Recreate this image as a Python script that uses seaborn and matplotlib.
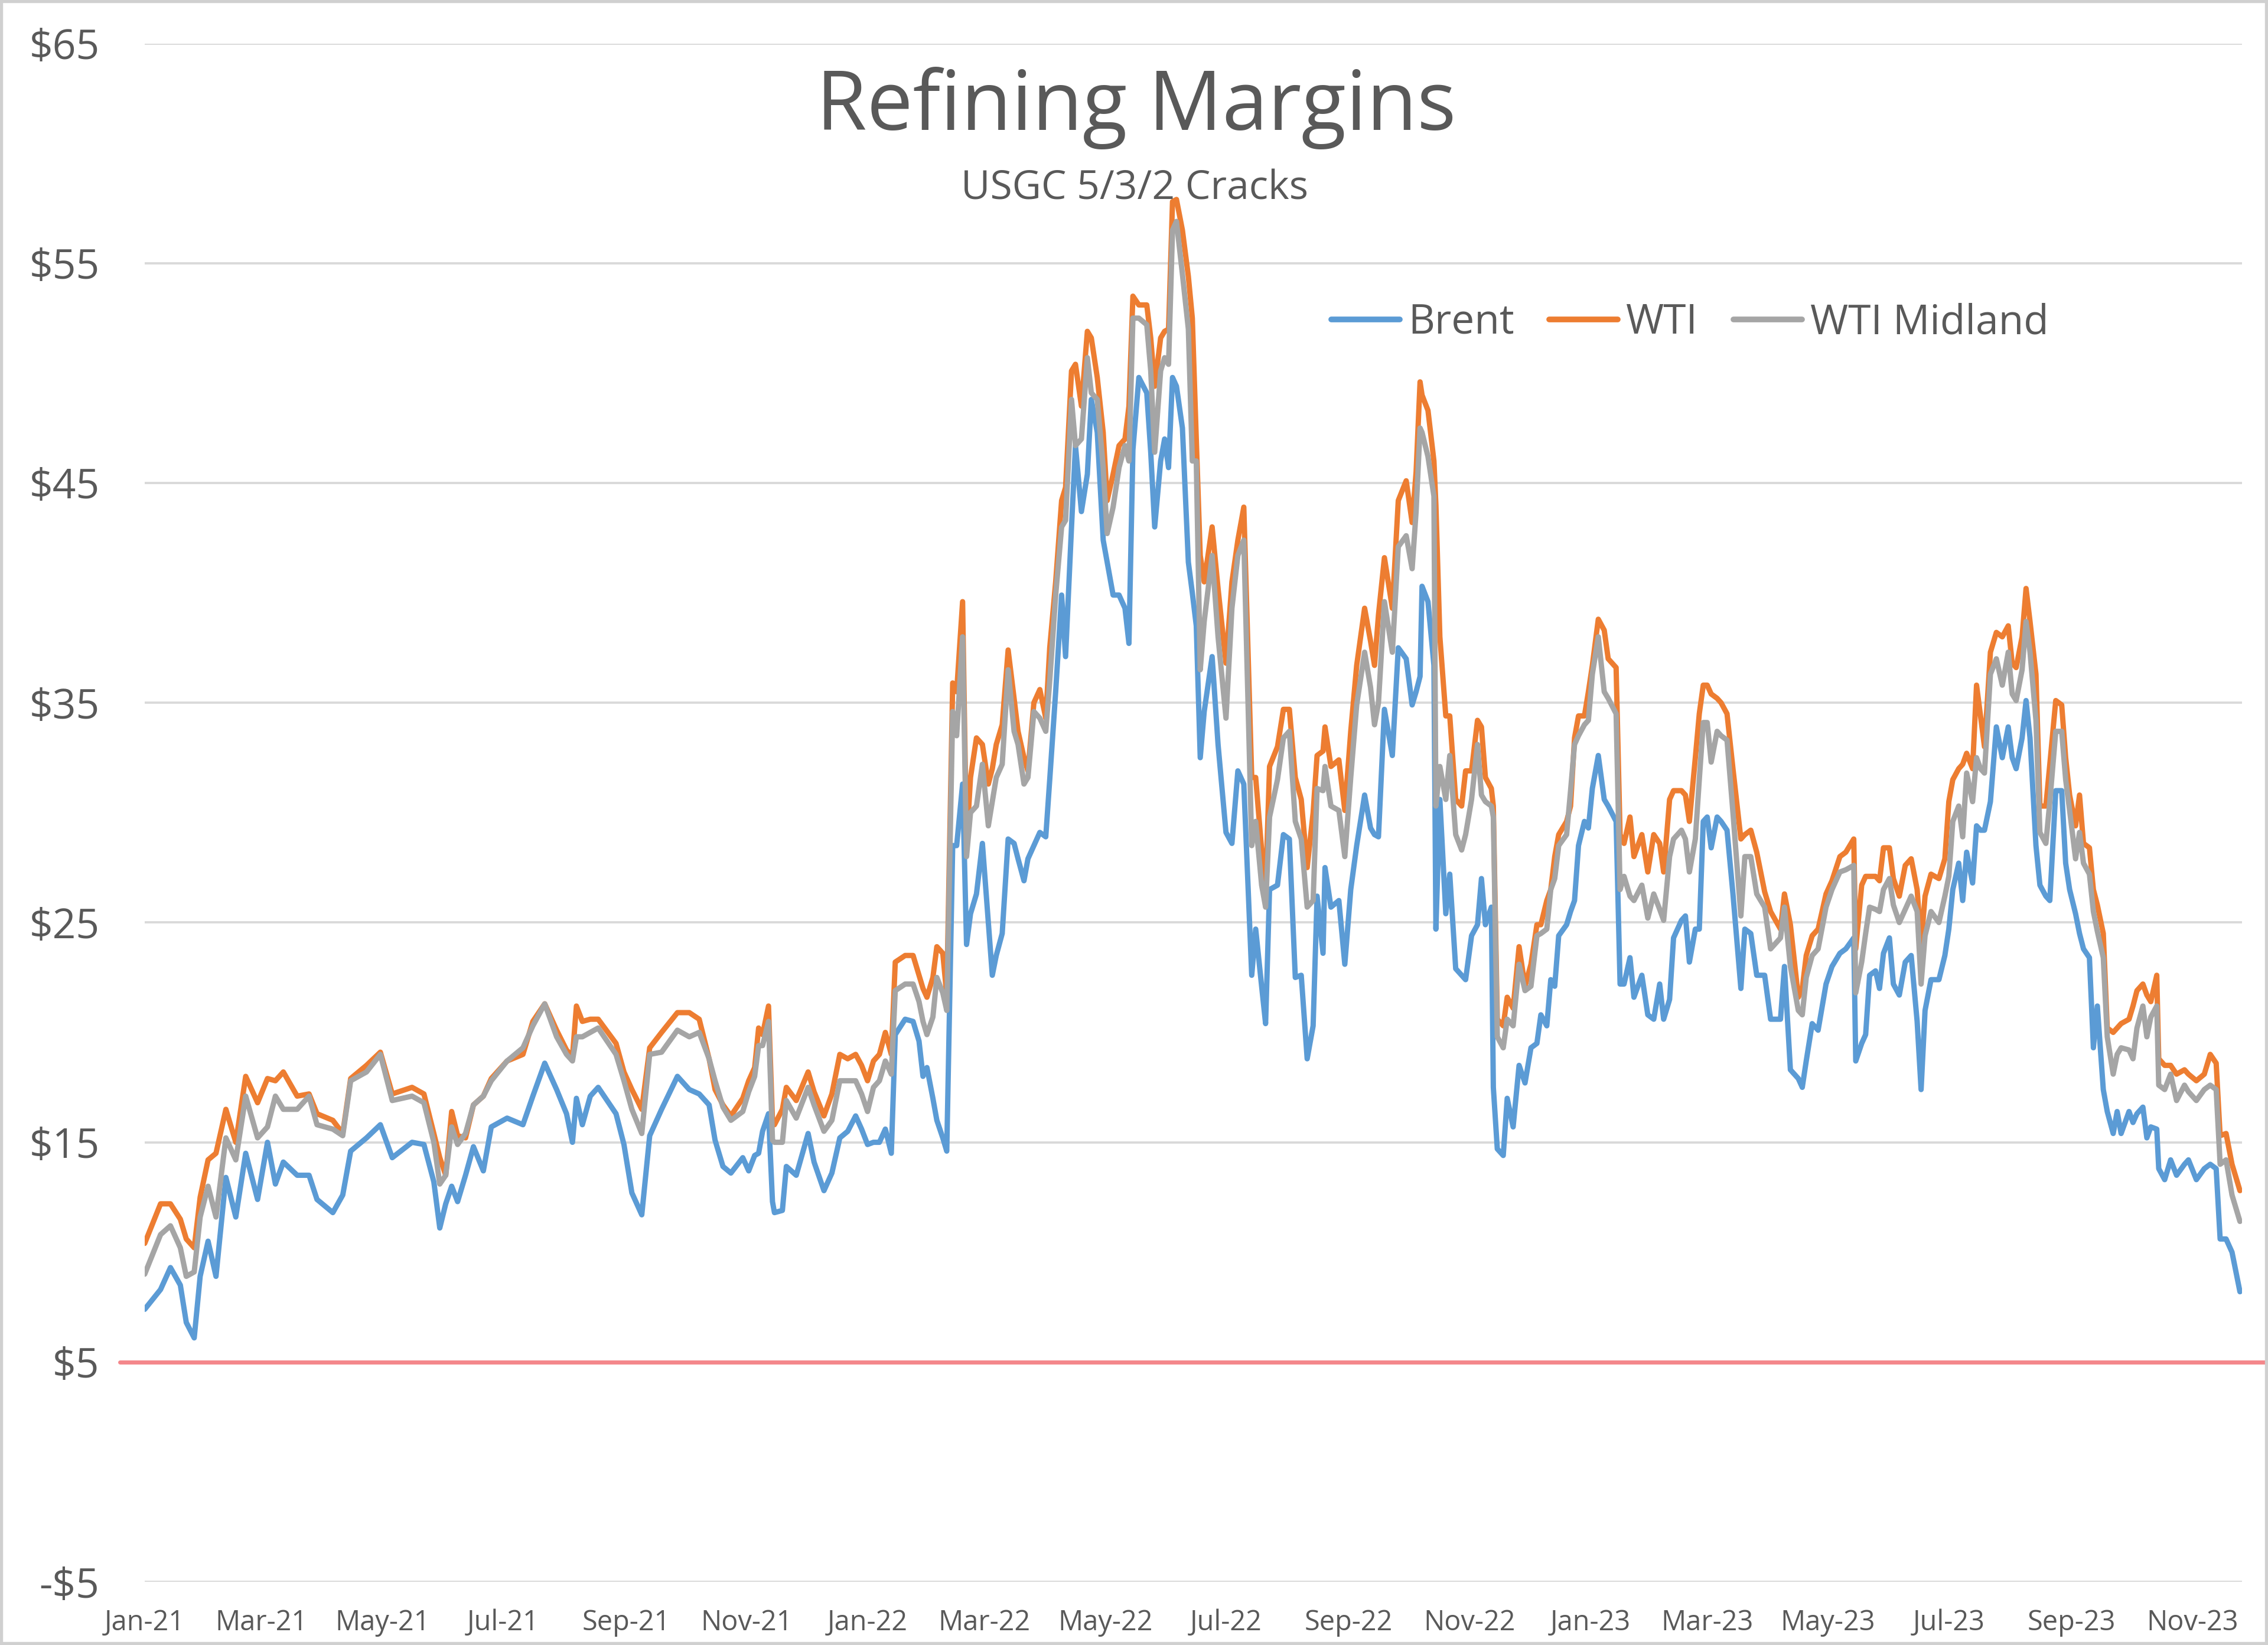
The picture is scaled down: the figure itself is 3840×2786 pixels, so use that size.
import numpy as np
import pandas as pd
import matplotlib
matplotlib.use("Agg")
import matplotlib.pyplot as plt
import matplotlib.dates as mdates
from matplotlib.ticker import FuncFormatter, FixedLocator
from matplotlib.patches import Rectangle
import seaborn as sns

# ---------------- data ----------------
start_date = "2021-01-01"
# day offsets from start_date
days = [0, 8, 13, 18, 21, 25, 28, 32, 36, 41,
        46, 51, 57, 62, 66, 70, 77, 83, 87, 95,
        100, 104, 112, 119, 125, 135, 141, 146, 149, 152,
        155, 158, 162, 166, 171, 175, 183, 191, 196, 202,
        208, 213, 216, 218, 221, 225, 229, 238, 242, 246,
        251, 255, 261, 269, 275, 280, 285, 288, 292, 296,
        302, 305, 308, 310, 312, 315, 317, 318, 322, 324,
        329, 335, 338, 343, 347, 351, 355, 359, 362, 365,
        368, 371, 374, 377, 379, 384, 388, 391, 393, 395,
        398, 400, 403, 405, 408, 410, 413, 415, 417, 420,
        423, 426, 428, 430, 433, 436, 439, 441, 444, 446,
        449, 452, 455, 457, 460, 463, 465, 468, 470, 473,
        476, 478, 481, 484, 486, 489, 492, 495, 497, 499,
        502, 506, 508, 510, 513, 515, 517, 519, 521, 524,
        527, 529, 531, 533, 535, 539, 542, 546, 549, 552,
        555, 559, 561, 564, 566, 568, 572, 575, 578, 581,
        584, 587, 590, 592, 595, 596, 599, 603, 606, 609,
        612, 616, 619, 621, 623, 626, 630, 633, 637, 640,
        642, 644, 645, 648, 651, 652, 654, 657, 659, 662,
        665, 667, 670, 673, 675, 677, 680, 681, 683, 686,
        688, 691, 694, 697, 700, 703, 705, 708, 710, 712,
        714, 718, 720, 722, 724, 727, 729, 731, 734, 737,
        739, 743, 745, 747, 750, 752, 756, 759, 762, 765,
        767, 770, 772, 776, 778, 780, 783, 785, 787, 789,
        791, 794, 796, 799, 802, 806, 808, 811, 814, 818,
        821, 826, 828, 831, 835, 837, 839, 842, 845, 849,
        852, 856, 859, 863, 864, 867, 869, 871, 874, 876,
        878, 881, 883, 886, 889, 892, 895, 897, 899, 902,
        906, 909, 911, 913, 916, 918, 920, 923, 925, 927,
        929, 932, 935, 938, 941, 943, 945, 948, 950, 952,
        955, 957, 960, 962, 965, 968, 970, 972, 975, 977,
        979, 982, 984, 986, 989, 991, 994, 996, 998, 1002,
        1004, 1006, 1009, 1011, 1013, 1016, 1017, 1020, 1023, 1026,
        1030, 1032, 1036, 1040, 1043, 1046, 1048, 1051, 1054, 1058]

brent = [7.4, 8.3, 9.3, 8.5, 6.8, 6.1, 8.9, 10.5, 8.9, 13.4,
         11.6, 14.5, 12.4, 15.0, 13.1, 14.1, 13.5, 13.5, 12.4, 11.8,
         12.6, 14.6, 15.2, 15.8, 14.3, 15.0, 14.9, 13.2, 11.1, 12.2,
         13.0, 12.3, 13.5, 14.8, 13.7, 15.7, 16.1, 15.8, 17.1, 18.6,
         17.4, 16.3, 15.0, 17.0, 15.8, 17.1, 17.5, 16.3, 14.9, 12.7,
         11.7, 15.3, 16.5, 18.0, 17.4, 17.2, 16.7, 15.1, 13.9, 13.6,
         14.3, 13.7, 14.4, 14.5, 15.5, 16.3, 12.3, 11.8, 11.9, 13.9,
         13.5, 15.4, 14.1, 12.8, 13.6, 15.2, 15.5, 16.2, 15.6, 14.9,
         15.0, 15.0, 15.6, 14.5, 19.9, 20.6, 20.5, 19.6, 18.0, 18.4,
         17.0, 16.0, 15.2, 14.6, 28.5, 28.5, 31.3, 24.0, 25.4, 26.3,
         28.6, 25.0, 22.6, 23.5, 24.5, 28.8, 28.6, 27.9, 26.9, 27.9,
         28.5, 29.1, 28.9, 31.5, 35.5, 39.9, 37.1, 43.0, 46.7, 43.7,
         45.4, 48.8, 47.3, 42.4, 41.4, 39.9, 39.9, 39.3, 37.7, 46.5,
         49.8, 49.1, 46.4, 43.0, 46.0, 47.0, 45.7, 49.8, 49.4, 47.5,
         41.4, 40.0, 38.5, 32.5, 34.6, 37.1, 33.1, 29.1, 28.6, 31.9,
         31.3, 22.6, 24.7, 22.1, 20.4, 26.5, 26.7, 29.0, 28.8, 22.5,
         22.6, 18.8, 20.3, 26.2, 23.6, 27.5, 25.7, 26.0, 23.1, 26.5,
         28.5, 30.8, 29.3, 29.0, 28.9, 34.7, 32.6, 37.5, 37.0, 34.9,
         35.5, 36.2, 40.3, 39.6, 36.7, 24.7, 30.6, 25.4, 27.2, 22.9,
         22.6, 22.4, 24.4, 24.9, 27.0, 24.9, 25.7, 17.5, 14.7, 14.4,
         17.0, 15.7, 18.5, 17.7, 19.3, 19.5, 20.8, 20.3, 22.4, 22.1,
         24.4, 24.9, 25.5, 26.0, 28.5, 29.6, 29.3, 31.1, 32.6, 30.6,
         30.3, 29.6, 22.2, 22.2, 23.4, 21.6, 22.6, 20.8, 20.6, 22.2,
         20.6, 21.5, 24.3, 25.1, 25.3, 23.2, 24.7, 24.7, 29.6, 29.8,
         28.4, 29.8, 29.6, 29.2, 26.3, 22.0, 24.7, 24.5, 22.6, 22.6,
         20.6, 20.6, 23.0, 18.3, 17.9, 17.5, 18.7, 20.4, 20.1, 22.2,
         23.0, 23.6, 23.8, 24.3, 18.7, 19.5, 19.9, 22.6, 22.8, 22.0,
         23.6, 24.3, 22.2, 21.7, 23.2, 23.5, 20.5, 17.4, 21.0, 22.4,
         22.4, 23.5, 24.7, 26.5, 27.7, 26.0, 28.2, 26.8, 29.4, 29.2,
         29.2, 30.5, 33.9, 32.5, 33.9, 32.5, 32.0, 33.4, 35.1, 33.4,
         28.5, 26.7, 26.2, 26.0, 31.0, 31.0, 27.7, 26.5, 25.4, 24.5,
         23.8, 23.4, 19.3, 21.2, 17.4, 16.4, 15.4, 16.4, 15.4, 16.4,
         15.9, 16.3, 16.6, 15.2, 15.7, 15.6, 13.8, 13.3, 14.2, 13.5,
         14.0, 14.2, 13.3, 13.8, 14.0, 13.8, 10.6, 10.6, 10.0, 8.2]

wti = [10.4, 12.2, 12.2, 11.5, 10.6, 10.2, 12.5, 14.2, 14.5, 16.5,
       15.0, 18.0, 16.8, 17.9, 17.8, 18.2, 17.1, 17.2, 16.3, 16.0,
       15.4, 17.9, 18.5, 19.1, 17.2, 17.5, 17.2, 15.4, 14.3, 13.5,
       16.4, 15.3, 15.2, 16.7, 17.1, 17.9, 18.7, 19.0, 20.5, 21.3,
       20.1, 19.2, 18.9, 21.2, 20.5, 20.6, 20.6, 19.5, 18.2, 17.4,
       16.5, 19.3, 20.0, 20.9, 20.9, 20.6, 18.8, 17.4, 16.7, 16.2,
       17.0, 17.8, 18.4, 20.2, 19.9, 21.2, 16.0, 15.8, 16.5, 17.5,
       16.9, 18.2, 17.3, 16.2, 17.2, 19.0, 18.8, 19.0, 18.5, 17.8,
       18.7, 19.0, 20.0, 19.0, 23.2, 23.5, 23.5, 22.6, 22.0, 21.6,
       22.5, 23.9, 23.6, 21.7, 35.9, 35.5, 39.6, 28.5, 31.6, 33.4,
       33.1, 31.3, 32.0, 33.1, 34.0, 37.4, 35.2, 33.7, 32.5, 31.9,
       35.0, 35.6, 34.3, 37.5, 40.5, 44.2, 44.8, 50.1, 50.4, 48.5,
       51.9, 51.6, 49.8, 47.3, 44.2, 45.4, 46.7, 47.0, 48.5, 53.5,
       53.1, 53.1, 51.6, 49.4, 51.6, 51.9, 52.0, 57.8, 57.9, 56.5,
       54.4, 52.5, 47.0, 41.7, 40.5, 43.0, 40.2, 36.8, 40.5, 42.4,
       43.9, 31.6, 31.6, 28.3, 26.5, 32.1, 33.0, 34.7, 34.7, 31.6,
       30.6, 27.5, 30.0, 32.6, 32.8, 33.9, 32.1, 32.4, 30.1, 33.7,
       36.7, 39.3, 37.8, 36.7, 39.0, 41.6, 39.3, 44.2, 45.1, 43.2,
       45.5, 49.6, 49.0, 48.3, 46.0, 44.0, 38.0, 34.4, 34.4, 30.6,
       30.3, 31.9, 31.9, 34.2, 33.9, 31.6, 31.1, 30.3, 20.6, 20.3,
       21.6, 21.1, 23.9, 22.1, 23.1, 24.9, 24.9, 26.0, 26.5, 28.0,
       29.0, 29.6, 30.3, 33.4, 34.4, 34.4, 35.5, 36.7, 38.8, 38.3,
       37.0, 36.6, 29.0, 28.6, 29.8, 28.0, 29.0, 27.3, 29.0, 28.6,
       27.3, 30.6, 31.0, 31.0, 30.8, 29.6, 32.5, 34.5, 35.8, 35.8,
       35.4, 35.2, 35.0, 34.5, 32.0, 28.8, 29.0, 29.2, 28.2, 26.4,
       25.5, 24.7, 26.3, 24.9, 21.6, 22.0, 23.5, 24.4, 24.7, 26.3,
       26.9, 28.0, 28.2, 28.8, 23.8, 26.7, 27.1, 27.1, 27.1, 26.9,
       28.4, 28.4, 27.0, 26.2, 27.6, 27.9, 26.5, 24.0, 26.2, 27.2,
       27.0, 27.9, 30.5, 31.5, 32.0, 32.2, 32.7, 32.0, 35.8, 34.4,
       33.0, 37.3, 38.2, 38.0, 38.5, 36.8, 36.6, 38.0, 40.2, 38.7,
       36.3, 30.3, 30.3, 32.2, 35.1, 34.9, 32.5, 30.8, 29.4, 30.8,
       28.6, 28.4, 26.5, 25.8, 24.5, 20.2, 20.0, 20.2, 20.4, 20.6,
       21.2, 21.9, 22.2, 21.7, 21.4, 22.6, 18.8, 18.5, 18.5, 18.1,
       18.3, 18.1, 17.8, 18.1, 19.0, 18.6, 15.3, 15.4, 14.0, 12.8]

wti_midland = [9.0, 10.8, 11.2, 10.2, 8.9, 9.1, 11.6, 13.0, 11.6, 15.2,
               14.2, 17.1, 15.2, 15.7, 17.1, 16.5, 16.5, 17.1, 15.8, 15.6,
               15.3, 17.8, 18.2, 19.0, 16.9, 17.1, 16.8, 15.0, 13.1, 13.5,
               15.7, 14.9, 15.4, 16.7, 17.1, 17.8, 18.7, 19.3, 20.3, 21.3,
               19.8, 19.0, 18.7, 19.8, 19.8, 20.0, 20.2, 19.0, 17.8, 16.5,
               15.4, 19.0, 19.1, 20.1, 19.8, 20.0, 18.8, 17.8, 16.6, 16.0,
               16.4, 17.3, 18.0, 19.4, 19.4, 20.5, 15.1, 15.0, 15.0, 16.9,
               16.1, 17.5, 16.7, 15.5, 16.0, 17.8, 17.8, 17.8, 17.2, 16.4,
               17.5, 17.8, 18.7, 18.1, 21.9, 22.2, 22.2, 21.4, 20.5, 19.9,
               20.7, 22.5, 21.8, 21.0, 34.6, 33.5, 38.0, 28.0, 30.0, 30.3,
               32.2, 29.4, 30.5, 31.6, 32.2, 36.5, 33.7, 33.1, 31.3, 31.6,
               34.6, 34.3, 33.7, 36.0, 39.9, 43.0, 43.3, 48.8, 46.7, 47.0,
               50.7, 49.1, 48.8, 45.7, 42.7, 43.9, 45.7, 46.7, 46.0, 52.5,
               52.5, 52.2, 50.1, 46.4, 50.1, 50.7, 50.4, 56.5, 56.9, 54.5,
               52.0, 46.0, 46.0, 36.5, 38.7, 41.7, 38.0, 34.3, 39.3, 41.7,
               42.4, 28.5, 29.6, 26.7, 25.7, 29.8, 31.5, 33.4, 33.7, 29.6,
               28.8, 25.7, 26.0, 31.1, 31.0, 32.1, 30.3, 30.1, 28.0, 31.6,
               34.9, 37.3, 35.7, 34.0, 35.0, 39.6, 37.3, 42.1, 42.6, 41.1,
               43.7, 47.5, 47.3, 46.2, 44.4, 30.3, 32.1, 30.6, 32.6, 29.0,
               28.3, 29.0, 30.6, 33.1, 30.8, 30.5, 30.3, 29.8, 19.8, 19.3,
               20.6, 20.3, 23.1, 21.9, 22.1, 24.4, 24.5, 24.7, 26.5, 27.0,
               28.5, 29.0, 31.0, 33.1, 33.5, 34.0, 34.2, 36.3, 38.0, 35.5,
               35.2, 34.5, 26.5, 27.1, 26.2, 26.0, 26.7, 25.2, 26.3, 25.6,
               25.1, 28.0, 28.8, 29.2, 28.8, 27.3, 28.8, 31.5, 34.1, 34.1,
               32.3, 33.7, 33.5, 33.3, 30.0, 25.3, 28.0, 28.0, 26.3, 25.7,
               23.8, 24.3, 25.7, 23.0, 21.0, 20.8, 22.5, 23.5, 23.8, 25.7,
               26.5, 27.3, 27.4, 27.6, 21.8, 23.2, 24.5, 25.7, 25.6, 25.5,
               26.5, 27.0, 25.8, 25.0, 25.6, 26.2, 25.5, 22.2, 24.4, 25.5,
               25.0, 26.2, 27.1, 29.6, 30.3, 28.9, 31.8, 30.5, 32.5, 32.0,
               31.8, 36.3, 37.0, 35.8, 37.3, 35.4, 35.1, 36.5, 38.7, 37.3,
               34.2, 29.1, 28.6, 30.5, 33.7, 33.7, 31.5, 30.1, 27.9, 29.1,
               27.7, 27.2, 25.5, 24.6, 23.4, 19.8, 18.1, 19.0, 19.3, 19.2,
               18.8, 20.2, 21.2, 19.8, 20.7, 21.2, 17.6, 17.4, 18.1, 16.9,
               17.6, 17.3, 16.9, 17.4, 17.6, 17.4, 14.0, 14.2, 12.6, 11.4]

series_names = ["Brent", "WTI", "WTI Midland"]
series_colors = ["#5B9BD5", "#ED7D31", "#A5A5A5"]
threshold_value = 5
y_ticks = [-5, 5, 15, 25, 35, 45, 55, 65]
title_text = "Refining Margins"
subtitle_text = "USGC 5/3/2 Cracks"

assert len(days) == len(brent) == len(wti) == len(wti_midland)

dates = pd.Timestamp(start_date) + pd.to_timedelta(days, unit="D")
wide = pd.DataFrame({"date": dates, "Brent": brent, "WTI": wti,
                     "WTI Midland": wti_midland})
df = wide.melt(id_vars="date", var_name="series", value_name="value")

# ---------------- style ----------------
sns.set_style("white")
plt.rcParams["font.family"] = ["Open Sans", "DejaVu Sans"]
text_color = "#595959"
grid_color = "#D9D9D9"

fig = plt.figure(figsize=(15.36, 11.144), dpi=250)
ax = fig.add_axes([0.0638, 0.0384, 0.9247, 0.9352])

sns.lineplot(data=df, x="date", y="value", hue="series",
             hue_order=series_names, palette=series_colors,
             linewidth=2.6, legend=False, ax=ax, sort=False,
             estimator=None)
for ln in ax.get_lines():
    ln.set_solid_joinstyle("round")
    ln.set_solid_capstyle("round")

series_lines = ax.get_lines()[:3]

# threshold line at $5 (extends slightly past plot area, as in reference)
ax.axhline(threshold_value, xmin=-0.0117, xmax=1.0116, color="#F4878B",
           lw=2.0, clip_on=False, zorder=1)

# axes limits / ticks
x0 = pd.Timestamp(start_date)
ax.set_xlim(x0, x0 + pd.Timedelta(days=1059))
ax.set_ylim(-5, 65)
ax.yaxis.set_major_locator(FixedLocator(y_ticks))
ax.yaxis.set_major_formatter(FuncFormatter(
    lambda v, p: ("-$%d" % abs(v)) if v < 0 else ("$%d" % v)))
ax.xaxis.set_major_locator(mdates.MonthLocator(bymonth=[1, 3, 5, 7, 9, 11]))
ax.xaxis.set_major_formatter(mdates.DateFormatter("%b-%y"))

ax.tick_params(axis="y", length=0, pad=22, labelsize=20, labelcolor=text_color)
ax.tick_params(axis="x", length=0, pad=13, labelsize=13.5, labelcolor=text_color)
ax.set_xlabel("")
ax.set_ylabel("")

ax.grid(False)
ax.yaxis.grid(True, color=grid_color, lw=1.1)
ax.set_axisbelow(True)
for s in ax.spines.values():
    s.set_visible(False)

# title and subtitle
fig.text(0.501, 0.921, title_text, ha="center", va="baseline",
         fontsize=40, color=text_color)
fig.text(0.5003, 0.879, subtitle_text, ha="center", va="baseline",
         fontsize=19.5, color=text_color)

# legend
leg = fig.legend(series_lines, series_names, loc="center left",
                 bbox_to_anchor=(0.587, 0.8035), ncol=3, frameon=False,
                 fontsize=20, handlelength=1.67, handletextpad=0.2,
                 columnspacing=0.86, borderpad=0, borderaxespad=0)
for t in leg.get_texts():
    t.set_color(text_color)
for h in leg.legend_handles:
    h.set_linewidth(2.8)

# chart-area border (Excel style)
fig.patches.append(Rectangle((0, 0), 1, 1, transform=fig.transFigure,
                             fill=False, edgecolor="#D0D0D0", lw=3,
                             zorder=10))

fig.savefig("out.png", dpi=250, facecolor="white")
